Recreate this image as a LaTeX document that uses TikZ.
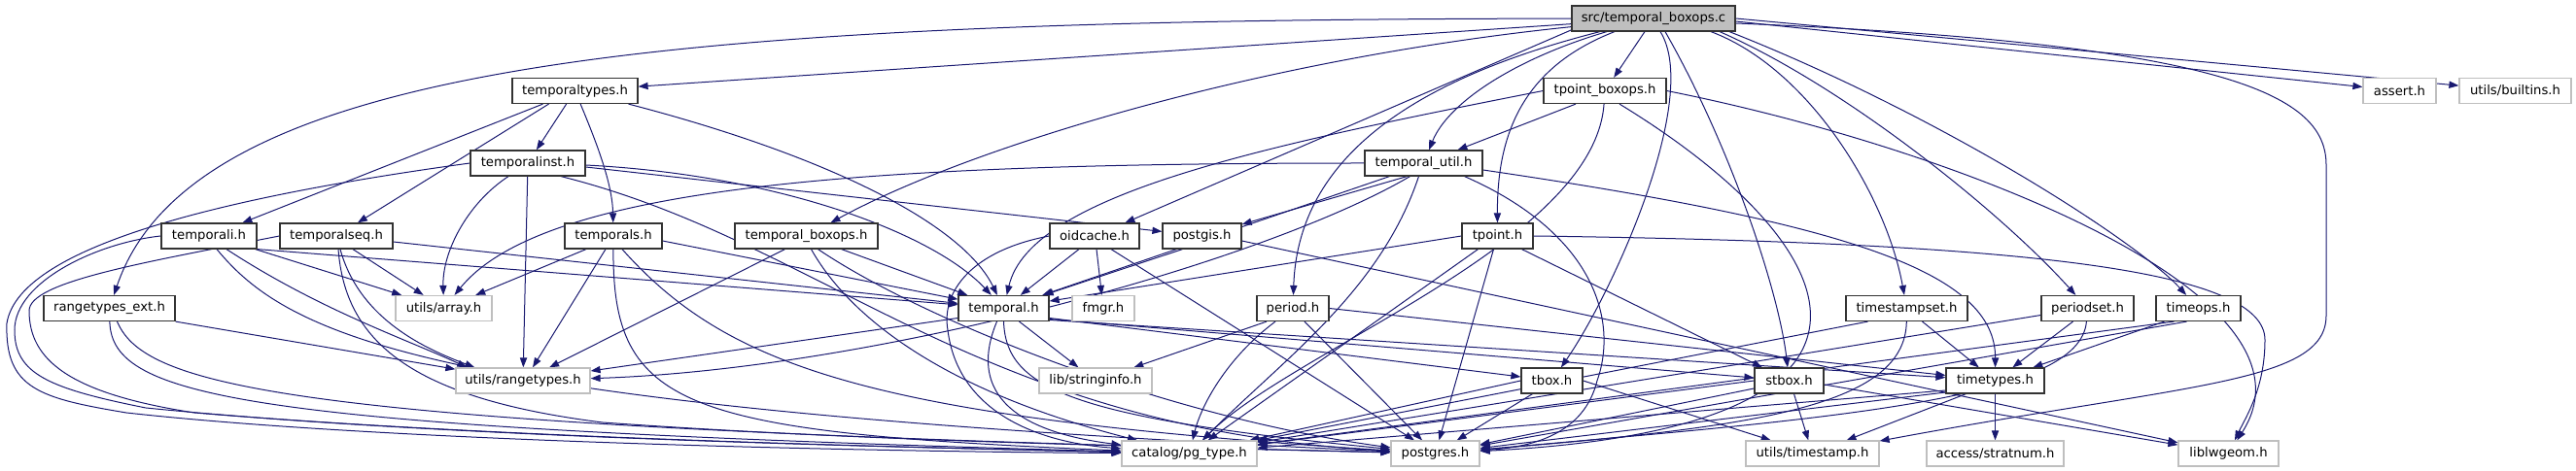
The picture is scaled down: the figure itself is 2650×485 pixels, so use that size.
\documentclass[tikz,border=0pt]{standalone}
\usepackage{fontspec}
\setmainfont{DejaVu Sans}
\usetikzlibrary{arrows.meta,calc}
\definecolor{edgec}{HTML}{191970}
\definecolor{grayb}{HTML}{BFBFBF}
\definecolor{rootf}{HTML}{BFBFBF}
\pgfdeclarelayer{bg}
\pgfsetlayers{bg,main}
\begin{document}
\begin{tikzpicture}[x=0.5pt,y=-0.5pt,font=\fontsize{6.6}{8}\selectfont,
  blk/.style={draw=black!80,fill=white,line width=0.6pt,inner sep=0pt,minimum height=13pt},
  gry/.style={draw=grayb,fill=white,line width=0.6pt,inner sep=0pt,minimum height=13pt},
  root/.style={blk,fill=rootf},
  bw/.style={minimum width=#1*0.5pt},
  dep/.style={draw=edgec,line width=0.5pt,-{Triangle[length=5pt,width=3.6pt]}}]
\useasboundingbox (0,0) rectangle (2650,485);
% nodes
\node[root,bw=168] (src) at (1701,19) {src/temporal\_boxops.c};
\node[blk,bw=129] (ttypes) at (591.5,93.5) {temporaltypes.h};
\node[blk,bw=126] (tpbox) at (1651,93.5) {tpoint\_boxops.h};
\node[gry,bw=75] (assrt) at (2468.5,93.5) {assert.h};
\node[gry,bw=115] (bltins) at (2587.5,93.5) {utils/builtins.h};
\node[blk,bw=118] (tinst) at (543,168) {temporalinst.h};
\node[blk,bw=121] (tutil) at (1464.5,168) {temporal\_util.h};
\node[blk,bw=98] (tI) at (215,243) {temporali.h};
\node[blk,bw=116] (tseq) at (346,243) {temporalseq.h};
\node[blk,bw=100] (tS) at (631,243) {temporals.h};
\node[blk,bw=147] (tbo) at (829.5,243) {temporal\_boxops.h};
\node[blk,bw=92] (oid) at (1126,243) {oidcache.h};
\node[blk,bw=81] (pgis) at (1236.5,243) {postgis.h};
\node[blk,bw=73] (tpoint) at (1540.5,243) {tpoint.h};
\node[blk,bw=135] (rext) at (112.5,317.5) {rangetypes\_ext.h};
\node[gry,bw=99] (arr) at (456.5,317.5) {utils/array.h};
\node[blk,bw=93] (temporal) at (1032.5,317.5) {temporal.h};
\node[gry,bw=64] (fmgr) at (1135,317.5) {fmgr.h};
\node[blk,bw=74] (period) at (1330,317.5) {period.h};
\node[blk,bw=125] (tss) at (1961.5,317.5) {timestampset.h};
\node[blk,bw=95] (pset) at (2147.5,317.5) {periodset.h};
\node[blk,bw=87] (tops) at (2261.5,317.5) {timeops.h};
\node[gry,bw=138] (rtypes) at (538,392) {utils/rangetypes.h};
\node[gry,bw=116] (sinfo) at (1127,392) {lib/stringinfo.h};
\node[blk,bw=63] (tbox) at (1596.5,392) {tbox.h};
\node[blk,bw=71] (stbox) at (1840.5,392) {stbox.h};
\node[blk,bw=101] (tmt) at (2052.5,392) {timetypes.h};
\node[gry,bw=139] (pgtype) at (1223.5,467) {catalog/pg\_type.h};
\node[gry,bw=91] (pgres) at (1476.5,467) {postgres.h};
\node[gry,bw=137] (tstamp) at (1864.5,467) {utils/timestamp.h};
\node[gry,bw=141] (strat) at (2052.5,467) {access/stratnum.h};
\node[gry,bw=103] (lwg) at (2292.5,467) {liblwgeom.h};
\begin{pgfonlayer}{bg}
% src
\draw[dep] (src) -- (ttypes);
\draw[dep] (src) .. controls (700,20) and (200,60) .. (rext);
\draw[dep] (src) .. controls (1300,60) and (1000,150) .. (tbo);
\draw[dep] (src.188) -- (oid);
\draw[dep] ($(src.south)+(-48,0)$) .. controls (1560,60) and (1490,105) .. (tutil);
\draw[dep] ($(src.south)+(-55,0)$) .. controls (1440,85) and (1335,170) .. (period);
\draw[dep] ($(src.south)+(-40,0)$) .. controls (1565,70) and (1540,140) .. (tpoint);
\draw[dep] ($(src.south)+(-9,0)$) -- (tpbox);
\draw[dep] ($(src.south)+(7,0)$) .. controls (1750,100) and (1660,300) .. (tbox);
\draw[dep] ($(src.south)+(12,0)$) .. controls (1780,150) and (1830,300) .. (stbox);
\draw[dep] ($(src.south)+(59,0)$) .. controls (1860,70) and (1940,200) .. (tss);
\draw[dep] ($(src.south)+(68,0)$) .. controls (1900,90) and (2060,220) .. (pset);
\draw[dep] ($(src.south)+(78,0)$) .. controls (2000,120) and (2200,250) .. (tops);
\draw[dep] ($(src.east)+(0,3)$) -- (assrt);
\draw[dep] (src.east) -- (bltins);
\draw[dep] ($(src.east)+(0,5)$) .. controls (2300,45) and (2393,100) .. (2393,170) -- (2393,325) .. controls (2393,395) and (2250,395) .. (tstamp);
% temporaltypes
\draw[dep] (ttypes) -- (tinst);
\draw[dep] (ttypes) .. controls (615,150) and (630,190) .. (tS);
\draw[dep] ($(ttypes.south)+(-33,0)$) -- (tI);
\draw[dep] ($(ttypes.south)+(-27,0)$) -- (tseq);
\draw[dep] ($(ttypes.south)+(55,0)$) .. controls (850,160) and (990,230) .. (temporal);
% temporalinst
\draw[dep] ($(tinst.south)+(-20,0)$) .. controls (480,210) and (455,260) .. (arr);
\draw[dep] (tinst) -- (rtypes);
\draw[dep] ($(tinst.east)+(0,2)$) .. controls (800,180) and (960,240) .. (temporal);
\draw[dep] ($(tinst.east)+(0,4)$) -- (pgis);
\draw[dep] (tinst.west) .. controls (250,200) and (20,250) .. (7,333) .. controls (5,400) and (40,410) .. (130,425) .. controls (400,455) and (900,465) .. (pgtype);
\draw[dep] ($(tinst.south)+(34,0)$) .. controls (850,250) and (1000,440) .. (pgres);
% temporali
\draw[dep] (tI.south east) -- (temporal);
\draw[dep] ($(tI.south east)+(-2,0)$) -- (arr);
\draw[dep] ($(tI.south)+(18,0)$) .. controls (330,320) and (420,350) .. ($(rtypes.north west)+(12,0)$);
\draw[dep] (tI.west) .. controls (100,250) and (15,290) .. (15,340) .. controls (15,385) and (50,400) .. (150,420) .. controls (450,450) and (900,460) .. (pgtype);
\draw[dep] ($(tI.south)+(8,0)$) .. controls (300,350) and (450,420) .. (pgres);
% temporalseq
\draw[dep] ($(tseq.south)+(17,0)$) -- (arr);
\draw[dep] ($(tseq.east)+(0,6)$) -- (temporal);
\draw[dep] ($(tseq.south)+(4,0)$) .. controls (370,330) and (440,360) .. ($(rtypes.north west)+(20,0)$);
\draw[dep] (tseq.west) .. controls (150,270) and (30,290) .. (30,320) .. controls (30,370) and (70,405) .. (200,425) .. controls (500,450) and (900,460) .. (pgtype);
\draw[dep] ($(tseq.south)+(2,0)$) .. controls (355,350) and (420,410) .. (620,435) .. controls (900,455) and (1200,460) .. (pgres);
% temporals
\draw[dep] ($(tS.south)+(-28,0)$) -- (arr);
\draw[dep] ($(tS.south)+(-8,0)$) -- ($(rtypes.north)+(10,0)$);
\draw[dep] ($(tS.east)+(0,5)$) -- (temporal);
\draw[dep] (tS) .. controls (630,420) and (700,445) .. (pgtype);
\draw[dep] ($(tS.south)+(9,0)$) .. controls (750,380) and (900,430) .. (pgres);
% temporal_boxops
\draw[dep] ($(tbo.south)+(-22,0)$) -- (rtypes);
\draw[dep] ($(tbo.south east)+(-38,0)$) -- (temporal);
\draw[dep] ($(tbo.south)+(5,0)$) .. controls (870,320) and (960,400) .. (pgtype);
\draw[dep] ($(tbo.south)+(12,0)$) .. controls (950,330) and (1200,430) .. (pgres);
% rangetypes_ext
\draw[dep] (rext.south east) -- (rtypes);
\draw[dep] (rext) .. controls (115,410) and (250,440) .. (pgtype);
\draw[dep] ($(rext.south)+(8,0)$) .. controls (150,400) and (300,440) .. (pgres);
% temporal_util
\draw[dep] ($(tutil.south)+(-35,0)$) -- (temporal);
\draw[dep] (tutil.west) .. controls (900,168) and (560,190) .. (arr);
\draw[dep] ($(tutil.south)+(-17,0)$) -- (pgis);
\draw[dep] ($(tutil.south)+(-14,0)$) .. controls (1300,270) and (900,380) .. (rtypes);
\draw[dep] ($(tutil.south)+(-5,0)$) .. controls (1420,300) and (1320,370) .. (pgtype);
\draw[dep] ($(tutil.south)+(42,0)$) .. controls (1640,240) and (1665,330) .. (1643,392) .. controls (1630,445) and (1580,460) .. (pgres);
\draw[dep] ($(tutil.east)+(0,7)$) .. controls (1900,230) and (2053,280) .. (tmt);
% tpoint_boxops
\draw[dep] ($(tpbox.south)+(-30,0)$) -- (tutil);
\draw[dep] (tpbox.west) .. controls (1300,150) and (1060,200) .. (temporal);
\draw[dep] (tpbox) .. controls (1640,250) and (1330,360) .. (pgtype);
\draw[dep] ($(tpbox.south)+(15,0)$) .. controls (1900,250) and (2000,440) .. (pgres);
\draw[dep] (tpbox.east) .. controls (2000,150) and (2400,300) .. (lwg);
% tpoint
\draw[dep] (tpoint.west) -- (temporal);
\draw[dep] ($(tpoint.south)+(-20,0)$) -- (pgtype);
\draw[dep] ($(tpoint.south)+(-4,0)$) -- (pgres);
\draw[dep] ($(tpoint.south)+(25,0)$) -- (stbox);
\draw[dep] (tpoint.east) .. controls (2100,250) and (2330,280) .. (2330,350) .. controls (2330,400) and (2310,430) .. (lwg);
% postgis
\draw[dep] ($(pgis.south)+(-20,0)$) -- (temporal);
\draw[dep] ($(pgis.east)+(0,5)$) -- (lwg);
% oidcache
\draw[dep] ($(oid.south)+(-16,0)$) -- (temporal);
\draw[dep] ($(oid.south)+(2,0)$) -- (fmgr);
\draw[dep] (oid.west) .. controls (1000,258) and (968,300) .. (975,340) .. controls (985,420) and (1060,455) .. (pgtype);
\draw[dep] ($(oid.south)+(17,0)$) -- (pgres);
% temporal
\draw[dep] ($(temporal.west)+(0,10)$) -- (rtypes);
\draw[dep] ($(temporal.south)+(16,0)$) -- (sinfo);
\draw[dep] ($(temporal.south)+(-7,0)$) .. controls (1005,380) and (1010,440) .. (pgtype);
\draw[dep] (temporal.south) .. controls (1035,400) and (1100,430) .. (pgres);
\draw[dep] ($(temporal.east)+(0,10)$) -- (tbox);
\draw[dep] ($(temporal.east)+(0,11)$) -- (stbox);
\draw[dep] ($(temporal.east)+(0,12)$) -- (tmt);
% period
\draw[dep] ($(period.south)+(-27,0)$) -- (sinfo);
\draw[dep] ($(period.south)+(-18,0)$) .. controls (1260,370) and (1235,420) .. (pgtype);
\draw[dep] ($(period.south)+(12,0)$) -- (pgres);
\draw[dep] (period.east) -- (tmt);
% timestampset
\draw[dep] ($(tss.south)+(16,0)$) -- (tmt);
\draw[dep] ($(tss.south)+(-40,0)$) -- (pgtype);
\draw[dep] (tss) .. controls (1960,420) and (1800,440) .. (pgres);
% periodset
\draw[dep] ($(pset.south)+(-15,0)$) -- (tmt);
\draw[dep] ($(pset.west)+(0,7)$) -- (pgtype);
\draw[dep] (pset) .. controls (2140,410) and (1900,430) .. (pgres);
% timeops
\draw[dep] ($(tops.south)+(-35,0)$) -- (tmt);
\draw[dep] ($(tops.south)+(-25,0)$) -- (pgtype);
\draw[dep] ($(tops.south)+(-12,0)$) -- (pgres);
% tbox
\draw[dep] (tbox.west) -- (pgtype);
\draw[dep] ($(tbox.south)+(-20,0)$) -- (pgres);
\draw[dep] (tbox.east) -- (tstamp);
% stbox
\draw[dep] ($(stbox.south)+(5,0)$) -- (tstamp);
\draw[dep] (stbox.west) -- (pgtype);
\draw[dep] ($(stbox.west)+(0,8)$) -- (pgres);
\draw[dep] ($(stbox.east)+(0,4)$) -- (lwg);
% timetypes
\draw[dep] ($(tmt.south)+(-30,0)$) -- (tstamp);
\draw[dep] (tmt) -- (strat);
\draw[dep] ($(tmt.west)+(0,10)$) -- (pgtype);
\draw[dep] ($(tmt.west)+(0,12)$) -- (pgres);
\end{pgfonlayer}
\end{tikzpicture}
\end{document}
